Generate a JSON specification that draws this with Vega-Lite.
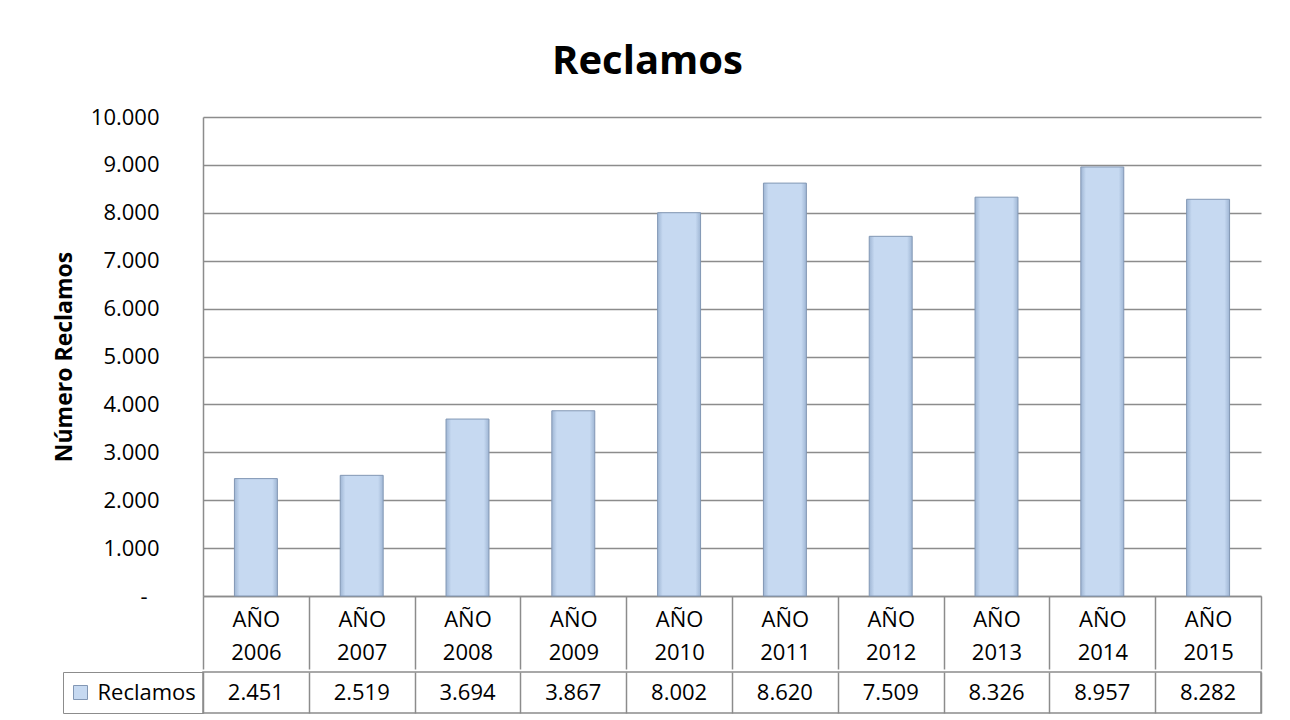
{
  "$schema": "https://vega.github.io/schema/vega-lite/v6.json",
  "background": "white",
  "padding": {"left": 53, "top": 42, "right": 20, "bottom": 5},
  "title": {"text": "Reclamos", "font": "Open Sans", "fontSize": 40, "fontWeight": "bold", "color": "black", "anchor": "middle", "frame": "bounds", "offset": 24, "dx": -10},
  "config": {
    "font": "Open Sans",
    "view": {"stroke": null},
    "locale": {"number": {"decimal": ",", "thousands": ".", "grouping": [3], "currency": ["", ""]}}
  },
  "datasets": {
    "reclamos": [
      {"year": "2006", "value": 2451, "series": "Reclamos"},
      {"year": "2007", "value": 2519, "series": "Reclamos"},
      {"year": "2008", "value": 3694, "series": "Reclamos"},
      {"year": "2009", "value": 3867, "series": "Reclamos"},
      {"year": "2010", "value": 8002, "series": "Reclamos"},
      {"year": "2011", "value": 8620, "series": "Reclamos"},
      {"year": "2012", "value": 7509, "series": "Reclamos"},
      {"year": "2013", "value": 8326, "series": "Reclamos"},
      {"year": "2014", "value": 8957, "series": "Reclamos"},
      {"year": "2015", "value": 8282, "series": "Reclamos"}
    ]
  },
  "spacing": 0,
  "resolve": {"scale": {"color": "independent"}, "legend": {"color": "independent"}},
  "vconcat": [
    {
      "width": 1058,
      "height": 479,
      "data": {"name": "reclamos"},
      "mark": {
        "type": "bar",
        "width": {"band": 0.406},
        "color": {"gradient": "linear", "x1": 0, "x2": 1, "y1": 0, "y2": 0, "stops": [
          {"offset": 0, "color": "#9fb6d4"},
          {"offset": 0.12, "color": "#c6d9f1"},
          {"offset": 0.88, "color": "#c6d9f1"},
          {"offset": 1, "color": "#9fb6d4"}
        ]},
        "stroke": "#8297b4",
        "strokeWidth": 1
      },
      "encoding": {
        "x": {
          "field": "year", "type": "nominal", "sort": null,
          "scale": {"paddingInner": 0, "paddingOuter": 0},
          "axis": {
            "title": null,
            "labelAngle": 0,
            "labelExpr": "datum.value ? ['AÑO', datum.value] : ''",
            "labelFont": "Open Sans", "labelFontSize": 22, "labelColor": "black",
            "labelLineHeight": 33, "labelBaseline": "top",
            "labelPadding": -60,
            "domainColor": "#8c8c8c", "domainWidth": 1.5,
            "tickColor": "#8c8c8c", "tickWidth": 1.5, "tickSize": 73, "tickBand": "extent"
          }
        },
        "y": {
          "field": "value", "type": "quantitative",
          "scale": {"domain": [0, 10000], "nice": false},
          "axis": {
            "values": [0, 1000, 2000, 3000, 4000, 5000, 6000, 7000, 8000, 9000, 10000],
            "labelExpr": "datum.value == 0 ? '-' : format(datum.value, ',')",
            "labelFont": "Open Sans", "labelFontSize": 22, "labelColor": "black",
            "labelPadding": {"condition": {"test": "datum.value == 0", "value": 56}, "value": 44},
            "ticks": false,
            "domainColor": "#8c8c8c", "domainWidth": 1.5,
            "gridColor": "#8c8c8c", "gridWidth": 1.5,
            "title": "Número Reclamos",
            "titleFont": "Open Sans", "titleFontSize": 23, "titleFontWeight": "bold", "titleColor": "black",
            "titlePadding": 14
          }
        }
      }
    },
    {
      "width": 1058,
      "height": 41,
      "view": {"stroke": "#8c8c8c", "strokeWidth": 1.5},
      "data": {"name": "reclamos"},
      "encoding": {
        "x": {
          "field": "year", "type": "nominal", "sort": null,
          "scale": {"paddingInner": 0, "paddingOuter": 0},
          "axis": {"title": null, "labels": false, "ticks": false, "domain": false, "grid": true, "gridColor": "#8c8c8c", "gridWidth": 1.5, "tickBand": "extent"}
        },
        "y": {"field": "series", "type": "nominal", "axis": null},
        "text": {"field": "value", "type": "quantitative", "format": ","}
      },
      "layer": [
        {
          "mark": {"type": "text", "font": "Open Sans", "fontSize": 22, "baseline": "middle", "opacity": 0},
          "encoding": {
            "color": {
              "field": "series", "type": "nominal",
              "scale": {"range": ["#c6d9f1"]},
              "legend": {
                "title": null, "orient": "left", "offset": 0,
                "padding": 6.5, "clipHeight": 28, "strokeColor": "#8c8c8c",
                "symbolType": "square", "symbolSize": 196, "symbolOffset": 0,
                "symbolOpacity": 1, "symbolStrokeColor": "#8297b4", "symbolStrokeWidth": 1,
                "labelOffset": 6, "labelFont": "Open Sans", "labelFontSize": 22, "labelColor": "black"
              }
            }
          }
        },
        {
          "mark": {"type": "text", "font": "Open Sans", "fontSize": 22, "baseline": "middle", "color": "black"}
        }
      ]
    }
  ]
}
